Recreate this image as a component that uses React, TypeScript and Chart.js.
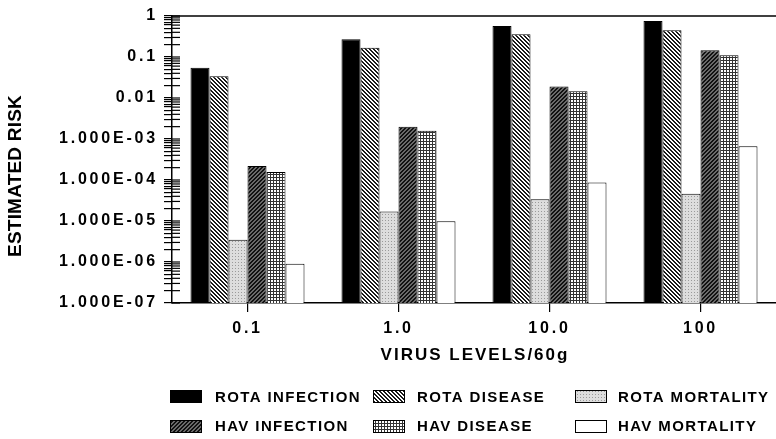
import { useEffect, useRef } from 'react';
import { Chart, registerables } from 'chart.js';

Chart.register(...registerables);

// ---- data ----
const categories = ['0.1', '1.0', '10.0', '100'];
const rotaInfection = [0.055, 0.27, 0.57, 0.75];
const rotaDisease = [0.034, 0.168, 0.36, 0.45];
const rotaMortality = [3.5e-6, 1.7e-5, 3.4e-5, 4.6e-5];
const havInfection = [2.2e-4, 2.0e-3, 0.019, 0.147];
const havDisease = [1.56e-4, 1.6e-3, 0.0147, 0.11];
const havMortality = [9.1e-7, 9.8e-6, 8.7e-5, 6.7e-4];
const seriesLabels = [
  'ROTA INFECTION',
  'ROTA DISEASE',
  'ROTA MORTALITY',
  'HAV INFECTION',
  'HAV DISEASE',
  'HAV MORTALITY',
];
const yTickExponents = [-7, -6, -5, -4, -3, -2, -1, 0];
const yTickLabels = ['1.000E-07', '1.000E-06', '1.000E-05', '1.000E-04', '1.000E-03', '0.01', '0.1', '1'];
const yTitle = 'ESTIMATED RISK';
const xTitle = 'VIRUS LEVELS/60g';

const FONT = '"Liberation Sans", Arial, Helvetica, sans-serif';
const TICK_SPACING = '2.8px';

function makePattern(size: number, fn: (x: number, y: number) => string): CanvasPattern | string {
  const c = document.createElement('canvas');
  c.width = size;
  c.height = size;
  const g = c.getContext('2d');
  if (!g) return '#888';
  for (let y = 0; y < size; y++) {
    for (let x = 0; x < size; x++) {
      g.fillStyle = fn(x, y);
      g.fillRect(x, y, 1, 1);
    }
  }
  return g.createPattern(c, 'repeat') || '#888';
}

function buildFills() {
  return [
    '#000000',
    makePattern(4, (x, y) => ((((x - y) % 4) + 4) % 4 < 2 ? '#1a1a1a' : '#ffffff')),
    makePattern(3, (x, y) => (x === 1 && y === 1 ? '#9a9a9a' : '#dddddd')),
    makePattern(4, (x, y) => ((x + y) % 4 < 2 ? '#111111' : '#6a6a6a')),
    makePattern(3, (x, y) => (x === 0 || y === 0 ? '#333333' : '#ffffff')),
    '#ffffff',
  ];
}

const decorPlugin = {
  id: 'decor',
  beforeUpdate(chart: any) {
    chart.ctx.letterSpacing = TICK_SPACING;
  },
  beforeDraw(chart: any) {
    const ctx = chart.ctx;
    ctx.save();
    ctx.fillStyle = '#ffffff';
    ctx.fillRect(0, 0, chart.width, chart.height);
    ctx.restore();
    ctx.letterSpacing = TICK_SPACING;
  },
  afterDraw(chart: any) {
    const ctx = chart.ctx as CanvasRenderingContext2D;
    const { left, right, top } = chart.chartArea;
    const yScale = chart.scales.y;
    ctx.save();
    ctx.strokeStyle = '#000';
    // top frame line
    ctx.lineWidth = 1.5;
    ctx.beginPath();
    ctx.moveTo(left, top);
    ctx.lineTo(right, top);
    ctx.stroke();
    // inner half of y ticks (cross the axis)
    ctx.lineWidth = 1.2;
    for (const t of yScale.ticks) {
      const py = yScale.getPixelForValue(t.value);
      ctx.beginPath();
      ctx.moveTo(left, py);
      ctx.lineTo(left + 8, py);
      ctx.stroke();
    }
    ctx.fillStyle = '#000';
    ctx.textAlign = 'center';
    ctx.textBaseline = 'middle';
    // x title
    ctx.font = `bold 17px ${FONT}`;
    (ctx as any).letterSpacing = '2px';
    ctx.fillText(xTitle, (left + right) / 2 + 1, 355);
    // y title
    ctx.save();
    ctx.font = `bold 19px ${FONT}`;
    (ctx as any).letterSpacing = '0.2px';
    ctx.translate(16, 176);
    ctx.rotate(-Math.PI / 2);
    ctx.fillText(yTitle, 0, 0);
    ctx.restore();
    // legend
    const colBox = [170, 373, 575];
    const colText = [215, 417, 618];
    const rowBox = [390, 420];
    const rowText = [398, 427];
    ctx.font = `bold 15px ${FONT}`;
    (ctx as any).letterSpacing = '1.4px';
    ctx.textAlign = 'left';
    chart.data.datasets.forEach((ds: any, i: number) => {
      const col = i % 3;
      const row = Math.floor(i / 3);
      const bx = colBox[col];
      const by = rowBox[row];
      ctx.fillStyle = ds.backgroundColor;
      ctx.fillRect(bx, by, 32, 13);
      ctx.lineWidth = 1;
      ctx.strokeStyle = '#000';
      ctx.strokeRect(bx + 0.5, by + 0.5, 31, 12);
      ctx.fillStyle = '#000';
      ctx.fillText(ds.label, colText[col], rowText[row]);
    });
    ctx.restore();
  },
};

export default function App() {
  const ref = useRef<HTMLCanvasElement>(null);

  useEffect(() => {
    const canvas = ref.current;
    if (!canvas) return;
    const fills = buildFills();
    const series = [rotaInfection, rotaDisease, rotaMortality, havInfection, havDisease, havMortality];
    const yTickValues: number[] = [];
    yTickExponents.forEach((e) => {
      if (e === 0) {
        yTickValues.push(1);
      } else {
        for (let m = 1; m <= 9; m++) yTickValues.push(Number((m * Math.pow(10, e)).toPrecision(6)));
      }
    });

    const chart = new Chart(canvas, {
      type: 'bar',
      data: {
        labels: categories,
        datasets: series.map((vals, i) => ({
          label: seriesLabels[i],
          data: vals,
          backgroundColor: fills[i] as any,
          borderColor: '#000000',
          borderWidth: 1,
          categoryPercentage: 0.755,
          barPercentage: 1,
        })),
      },
      options: {
        responsive: false,
        animation: false,
        devicePixelRatio: 1,
        layout: { padding: { top: 16, left: 0, right: 0, bottom: 96 } },
        plugins: {
          legend: { display: false },
          tooltip: { enabled: false },
          title: { display: false },
        },
        scales: {
          x: {
            type: 'category',
            offset: true,
            afterFit: (s: any) => {
              s.height = 40;
            },
            ticks: {
              padding: 7,
              color: '#000',
              maxRotation: 0,
              autoSkip: false,
              font: { family: FONT, size: 16, weight: 'bold' },
            },
            grid: {
              offset: false,
              drawOnChartArea: false,
              drawTicks: true,
              tickLength: 9,
              color: '#000',
              lineWidth: 1.2,
            },
            border: { display: true, color: '#000', width: 1.5 },
          },
          y: {
            type: 'logarithmic',
            min: 1e-7,
            max: 1,
            afterFit: (s: any) => {
              s.width = 172;
            },
            afterBuildTicks: (s: any) => {
              s.ticks = yTickValues.map((v) => ({ value: v }));
            },
            ticks: {
              autoSkip: false,
              padding: 6,
              color: '#000',
              font: { family: FONT, size: 16, weight: 'bold' },
              callback: (value: any) => {
                const e = Math.log10(Number(value));
                const r = Math.round(e);
                if (Math.abs(e - r) < 1e-6) {
                  const idx = yTickExponents.indexOf(r);
                  return idx >= 0 ? yTickLabels[idx] : '';
                }
                return '';
              },
            },
            grid: {
              drawOnChartArea: false,
              drawTicks: true,
              tickLength: 8,
              color: '#000',
              lineWidth: 1.2,
            },
            border: { display: true, color: '#000', width: 1.5 },
          },
        },
      } as any,
      plugins: [decorPlugin],
    });

    return () => {
      chart.destroy();
    };
  }, []);

  return (
    <div style={{ position: 'fixed', left: 0, top: 0, width: 776, height: 439, background: '#fff' }}>
      <canvas ref={ref} width={776} height={439} style={{ display: 'block' }} />
    </div>
  );
}
